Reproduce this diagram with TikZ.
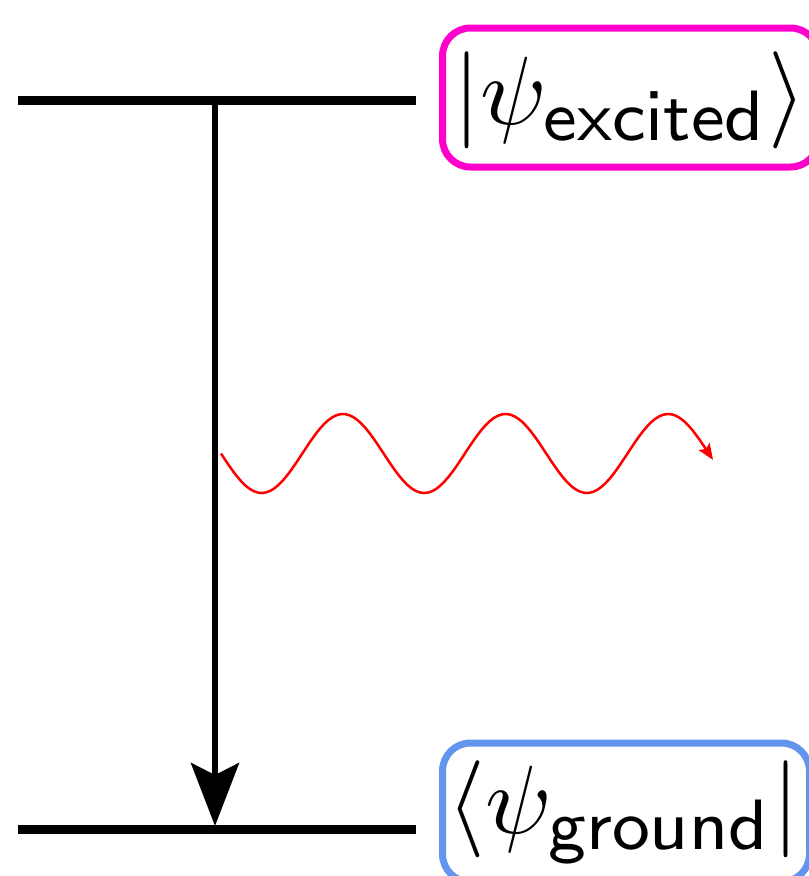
\documentclass[tikz,border=0pt]{standalone}
\usepackage{graphicx}
\usetikzlibrary{arrows.meta}
\definecolor{pinkbox}{RGB}{255,0,204}
\definecolor{bluebox}{RGB}{100,149,237}
\newcommand{\subtxt}[1]{\scalebox{1.05}{$\scriptstyle\mathsf{#1}$}}
\begin{document}
\begin{tikzpicture}[x=1pt,y=-1pt,
  level/.style={line width=8.5pt},
  statebox/.style={draw, line width=7pt, rounded corners=28pt, inner xsep=11pt, inner ysep=18.5pt, anchor=west},
  decay/.style={line width=6pt, -{Stealth[length=63pt,width=48pt,inset=12pt]}},
  photon/.style={red, line width=2.5pt, -{Stealth[length=16pt,width=13pt,inset=3pt]}}
]
\useasboundingbox (0,0) rectangle (809,876);
\coordinate (eL) at (18,100.7);
\coordinate (eR) at (416,100.7);
\coordinate (gL) at (18,829.5);
\coordinate (gR) at (416,829.5);
\coordinate (aS) at (215,100.7);
\coordinate (aE) at (215,826);
\draw[level] (eL) -- (eR);
\draw[level] (gL) -- (gR);
\node[statebox, draw=pinkbox, text height=77.75pt, text depth=24.25pt] (ex) at (439,97.5) {\makebox[354pt][l]{\scalebox{9.7}{$|\psi_{\subtxt{excited}}\rangle$}}};
\node[statebox, draw=bluebox, text height=72.75pt, text depth=30.25pt, inner ysep=18pt] (gr) at (439,812.5) {\makebox[345pt][l]{\hspace*{-6pt}\scalebox{9.7}{$\langle\psi_{\subtxt{ground}}|$}}};
\draw[decay] (aS) -- (aE);
\draw[photon] plot[domain=221:713, samples=120] (\x,{453.5+39.5*sin(2.214022*(\x-221))});
\end{tikzpicture}
\end{document}
